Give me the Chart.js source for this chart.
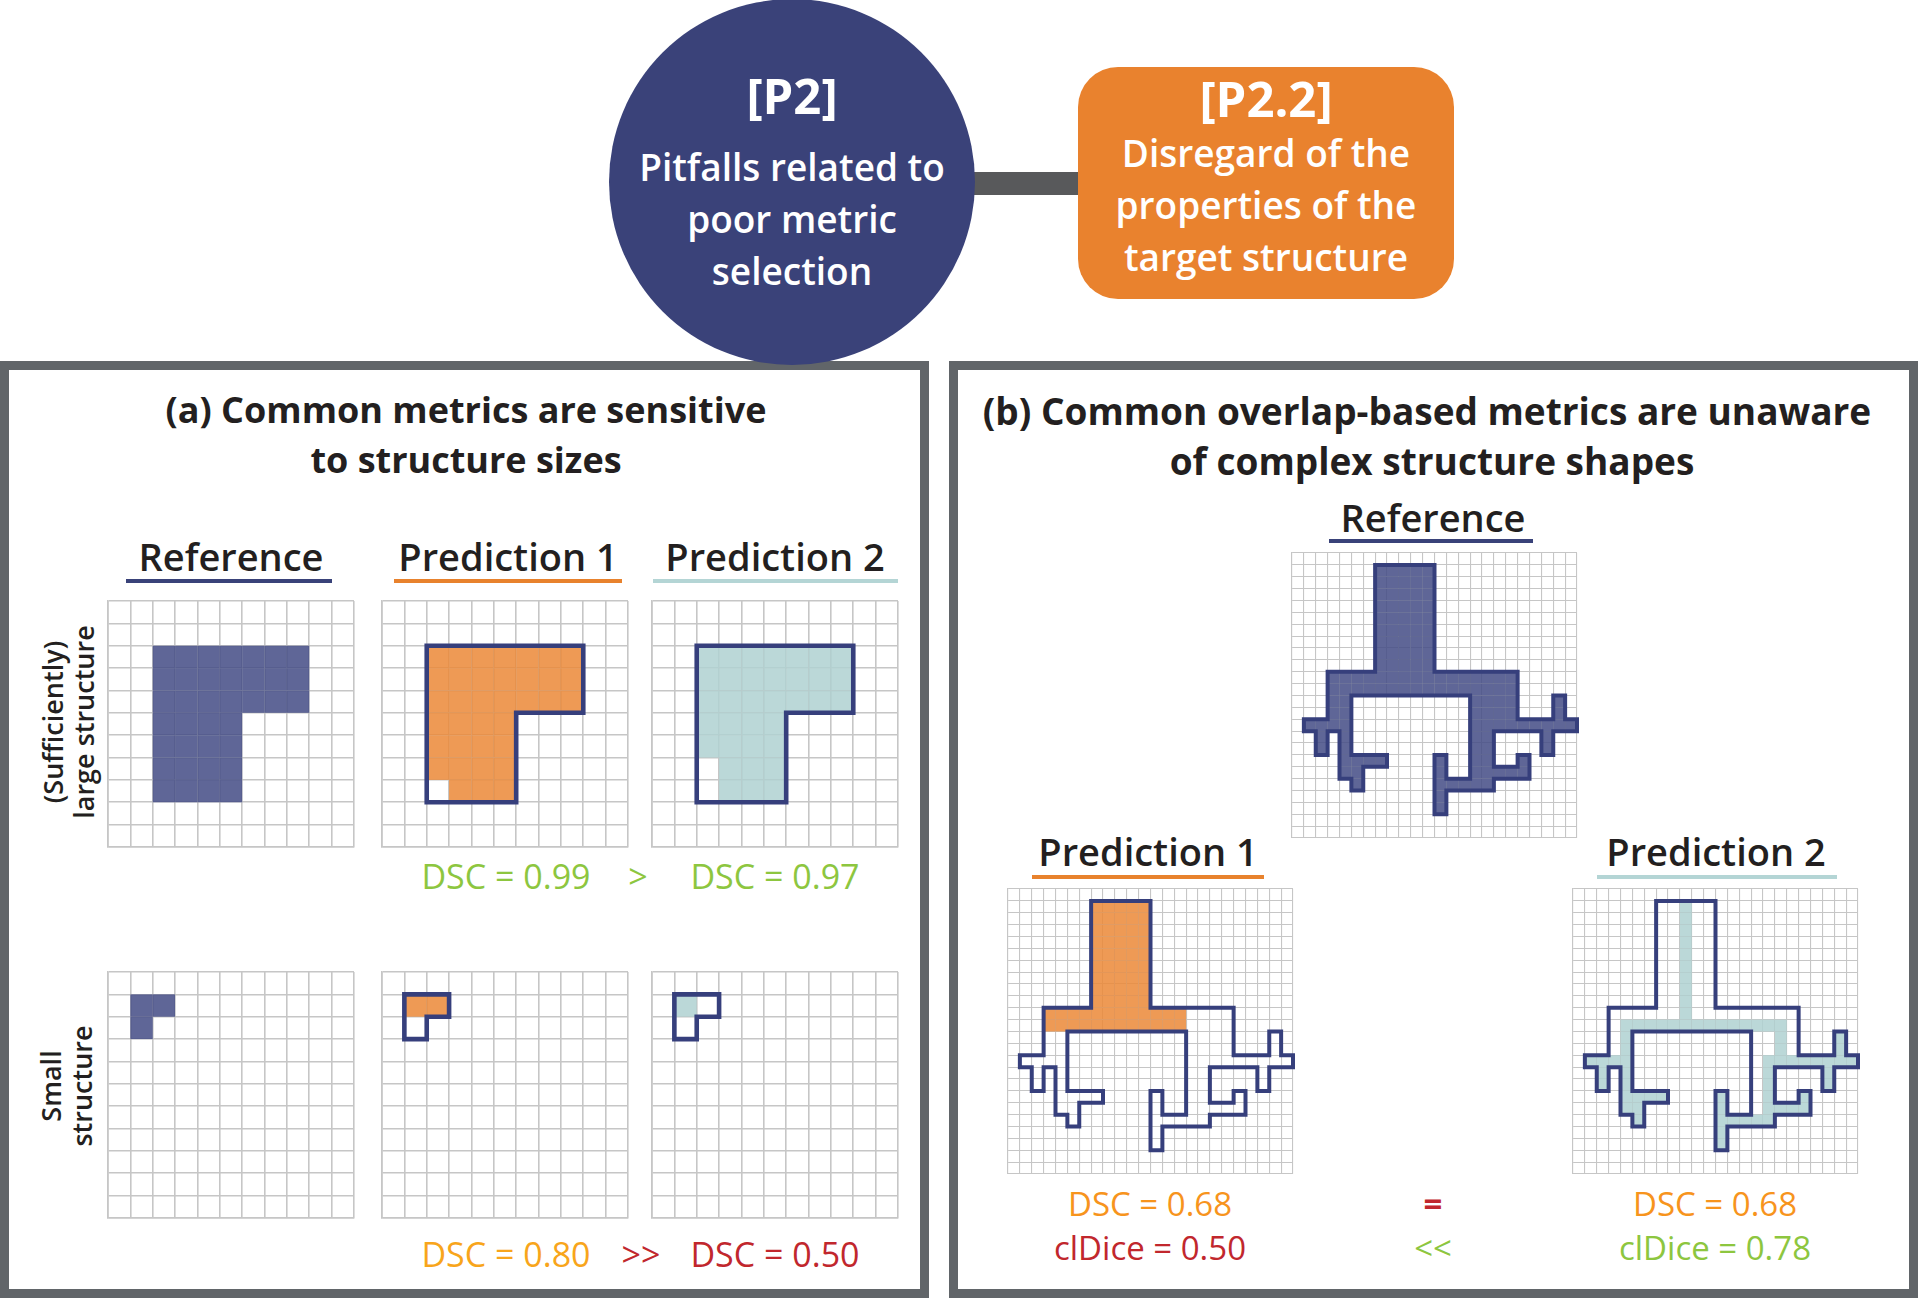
<!DOCTYPE html>
<html>
<head>
<meta charset="utf-8">
<script src="https://cdn.jsdelivr.net/npm/chart.js@4.4.1/dist/chart.umd.min.js"></script>
<style>
html, body { margin: 0; padding: 0; background: #fff; }
#page { position: relative; width: 1920px; height: 1298px; overflow: hidden; font-family: "Open Sans", sans-serif; color: #231f20; }
.panel { position: absolute; box-sizing: border-box; border: 9px solid #616569; }
.txt { position: absolute; white-space: nowrap; line-height: 1; transform: translate(-50%, -50%); }
.side { position: absolute; white-space: nowrap; text-align: center; font-size: 27px; font-weight: 600; line-height: 31px; transform: translate(-50%, -50%) rotate(-90deg); }
.rule { position: absolute; height: 4px; }
canvas { position: absolute; }
</style>
</head>
<body>
<div id="page">
    <div class="panel" style="left:0;top:361px;width:929px;height:937px"></div>
    <div class="panel" style="left:949px;top:361px;width:969px;height:937px"></div>

    <div style="position:absolute;left:960px;top:172px;width:130px;height:23px;background:#58595b"></div>
    <div style="position:absolute;left:609px;top:-1px;width:366px;height:366px;border-radius:50%;background:#3a4279;z-index:2"></div>
    <div style="position:absolute;left:1078px;top:67px;width:376px;height:232px;border-radius:40px;background:#e9822e"></div>

    <div class="txt" style="left:792px;top:95px;font-size:49px;font-weight:700;color:#fff;z-index:3">[P2]</div>
    <div class="txt" style="left:792px;top:166px;font-size:37px;font-weight:600;color:#fff;z-index:3">Pitfalls related to</div>
    <div class="txt" style="left:792px;top:218px;font-size:37px;font-weight:600;color:#fff;z-index:3">poor metric</div>
    <div class="txt" style="left:792px;top:270px;font-size:37px;font-weight:600;color:#fff;z-index:3">selection</div>

    <div class="txt" style="left:1266px;top:98px;font-size:49px;font-weight:700;color:#fff">[P2.2]</div>
    <div class="txt" style="left:1266px;top:152px;font-size:37px;font-weight:600;color:#fff">Disregard of the</div>
    <div class="txt" style="left:1266px;top:204px;font-size:37px;font-weight:600;color:#fff">properties of the</div>
    <div class="txt" style="left:1266px;top:256px;font-size:37px;font-weight:600;color:#fff">target structure</div>

    <div class="txt" style="left:466px;top:410px;font-size:36px;font-weight:700">(a) Common metrics are sensitive</div>
    <div class="txt" style="left:466px;top:460px;font-size:36px;font-weight:700">to structure sizes</div>
    <div class="txt" style="left:1427px;top:410px;font-size:37px;font-weight:700">(b) Common overlap-based metrics are unaware</div>
    <div class="txt" style="left:1432px;top:460px;font-size:37px;font-weight:700">of complex structure shapes</div>

    <div class="txt" style="left:231px;top:556px;font-size:38px;font-weight:600">Reference</div>
    <div class="txt" style="left:508px;top:556px;font-size:38px;font-weight:600">Prediction 1</div>
    <div class="txt" style="left:775px;top:556px;font-size:38px;font-weight:600">Prediction 2</div>
    <div class="rule" style="left:126px;top:579px;width:206px;background:#394279"></div>
    <div class="rule" style="left:394px;top:579px;width:228px;background:#e8822d"></div>
    <div class="rule" style="left:653px;top:579px;width:245px;background:#b4d5d5"></div>

    <div class="side" style="left:68px;top:722px">(Sufficiently)<br>large structure</div>
    <div class="side" style="left:66px;top:1086px">Small<br>structure</div>

    <div class="txt" style="left:506px;top:876px;font-size:34px;color:#8dc63f">DSC = 0.99</div>
    <div class="txt" style="left:638px;top:876px;font-size:34px;color:#8dc63f">&gt;</div>
    <div class="txt" style="left:775px;top:876px;font-size:34px;color:#8dc63f">DSC = 0.97</div>
    <div class="txt" style="left:506px;top:1254px;font-size:34px;color:#f8a51b">DSC = 0.80</div>
    <div class="txt" style="left:641px;top:1254px;font-size:34px;color:#c1272d">&gt;&gt;</div>
    <div class="txt" style="left:775px;top:1254px;font-size:34px;color:#c1272d">DSC = 0.50</div>

    <div class="txt" style="left:1433px;top:517px;font-size:38px;font-weight:600">Reference</div>
    <div class="rule" style="left:1329px;top:539px;width:204px;background:#394279"></div>
    <div class="txt" style="left:1148px;top:851px;font-size:38px;font-weight:600">Prediction 1</div>
    <div class="rule" style="left:1032px;top:875px;width:232px;background:#e8822d"></div>
    <div class="txt" style="left:1716px;top:851px;font-size:38px;font-weight:600">Prediction 2</div>
    <div class="rule" style="left:1597px;top:875px;width:240px;background:#b4d5d5"></div>

    <div class="txt" style="left:1150px;top:1203px;font-size:33px;color:#f7941d">DSC = 0.68</div>
    <div class="txt" style="left:1150px;top:1247px;font-size:33px;color:#c1272d">clDice = 0.50</div>
    <div class="txt" style="left:1433px;top:1203px;font-size:33px;font-weight:700;color:#c1272d">=</div>
    <div class="txt" style="left:1433px;top:1247px;font-size:33px;color:#8dc63f">&lt;&lt;</div>
    <div class="txt" style="left:1715px;top:1203px;font-size:33px;color:#f7941d">DSC = 0.68</div>
    <div class="txt" style="left:1715px;top:1247px;font-size:33px;color:#8dc63f">clDice = 0.78</div>
</div>
<script>
// cell runs: [rowFrom, rowTo, colFrom, colTo] on the grid, row 0 at top
const largeReference = [[2, 4, 2, 8], [5, 8, 2, 5]];
const largePrediction1 = [[2, 4, 2, 8], [5, 7, 2, 5], [8, 8, 3, 5]];
const largePrediction2 = [[2, 4, 2, 8], [5, 6, 2, 5], [7, 8, 3, 5]];

const smallReference = [[1, 1, 1, 2], [2, 2, 1, 1]];
const smallPrediction1 = [[1, 1, 1, 2]];
const smallPrediction2 = [[1, 1, 1, 1]];

const treeReference = [
    [1, 9, 7, 11],
    [10, 11, 3, 18],
    [12, 13, 3, 4], [12, 13, 15, 18], [12, 13, 22, 22],
    [14, 14, 1, 4], [14, 14, 15, 23],
    [15, 16, 2, 2], [15, 16, 4, 4], [15, 16, 15, 16], [15, 16, 21, 21],
    [17, 17, 4, 7], [17, 21, 12, 12], [17, 18, 15, 16], [17, 18, 19, 19],
    [18, 18, 4, 5], [18, 18, 17, 18],
    [19, 19, 5, 5], [19, 19, 13, 16]
];
const treePrediction1 = [[1, 9, 7, 11], [10, 11, 3, 14]];
const treePrediction2 = [
    [1, 10, 9, 9],
    [11, 11, 4, 17],
    [12, 18, 4, 4], [12, 13, 17, 17], [12, 13, 22, 22],
    [14, 14, 1, 3], [14, 14, 16, 23],
    [15, 16, 2, 2], [15, 19, 16, 16], [15, 16, 21, 21],
    [17, 17, 5, 7], [17, 21, 12, 12], [17, 17, 19, 19],
    [18, 18, 5, 5], [18, 18, 17, 19],
    [19, 19, 5, 5], [19, 19, 13, 15]
];

const NAVY = "#363f7c";
const GRID = "#c6c6c6";
const FILL_NAVY = "rgba(67, 75, 133, 0.85)";
const FILL_ORANGE = "rgba(235, 136, 55, 0.85)";
const FILL_TEAL = "rgba(175, 209, 209, 0.85)";
const PAD = 4;

const cellsOf = function (runs) {
    const cells = new Set();
    runs.forEach(([r0, r1, c0, c1]) => {
        for (let r = r0; r <= r1; r++) {
            for (let c = c0; c <= c1; c++) cells.add(c + "," + r);
        }
    });
    return cells;
};

// trace the border of a cell set into closed loops, loops split by null points
const outlineOf = function (cells) {
    const has = (c, r) => cells.has(c + "," + r);
    const next = new Map();
    const add = (a, b) => {
        const k = a.join(",");
        if (!next.has(k)) next.set(k, []);
        next.get(k).push(b);
    };
    for (const key of cells) {
        const [c, r] = key.split(",").map(Number);
        if (!has(c, r - 1)) add([c, r], [c + 1, r]);
        if (!has(c + 1, r)) add([c + 1, r], [c + 1, r + 1]);
        if (!has(c, r + 1)) add([c + 1, r + 1], [c, r + 1]);
        if (!has(c - 1, r)) add([c, r + 1], [c, r]);
    }
    const out = [];
    for (const [k, list] of next) {
        while (list.length) {
            const loop = [k.split(",").map(Number)];
            let p = list.shift();
            while (p && p.join(",") !== k) {
                loop.push(p);
                const l = next.get(p.join(","));
                p = l && l.length ? l.shift() : null;
            }
            const pts = loop.filter((q, i) => {
                const a = loop[(i - 1 + loop.length) % loop.length];
                const b = loop[(i + 1) % loop.length];
                return !((a[0] === q[0] && q[0] === b[0]) || (a[1] === q[1] && q[1] === b[1]));
            });
            pts.push(pts[0]);
            pts.forEach(q => out.push({x: q[0], y: q[1]}));
            out.push({x: null, y: null});
        }
    }
    return out;
};

const axis = function (n, reverse, gridWidth) {
    return {
        type: "linear",
        min: 0,
        max: n,
        reverse: reverse,
        afterBuildTicks: scale => {
            scale.ticks = Array.from({length: n + 1}, (_, i) => ({value: i}));
        },
        ticks: {display: false},
        grid: {color: GRID, lineWidth: gridWidth, drawTicks: false},
        border: {color: GRID, width: gridWidth}
    };
};

const makeGrid = function (left, top, size, n, runs, fillColor, outlineRuns, outlineWidth, gridWidth) {
    const canvas = document.createElement("canvas");
    canvas.width = size + 2 * PAD;
    canvas.height = size + 2 * PAD;
    canvas.style.left = (left - PAD) + "px";
    canvas.style.top = (top - PAD) + "px";
    document.getElementById("page").appendChild(canvas);

    const cellPoints = [...cellsOf(runs)].map(key => {
        const [c, r] = key.split(",").map(Number);
        return {x: c + 0.5, y: r + 0.5};
    });

    const datasets = [{
        label: "cells",
        data: cellPoints,
        backgroundColor: fillColor,
        borderWidth: 0,
        pointStyle: "rect",
        pointRadius: ctx => {
            const s = ctx.chart.scales.x;
            return Math.abs(s.getPixelForValue(1) - s.getPixelForValue(0)) / Math.SQRT2;
        },
        order: 1
    }];

    if (outlineRuns) {
        datasets.push({
            label: "outline",
            data: outlineOf(cellsOf(outlineRuns)),
            showLine: true,
            spanGaps: false,
            borderColor: NAVY,
            borderWidth: outlineWidth,
            borderJoinStyle: "miter",
            borderCapStyle: "square",
            pointRadius: 0,
            clip: false,
            order: 0
        });
    }

    return new Chart(canvas.getContext("2d"), {
        type: "scatter",
        data: {datasets: datasets},
        options: {
            responsive: false,
            animation: false,
            events: [],
            layout: {padding: PAD},
            plugins: {legend: {display: false}, tooltip: {enabled: false}},
            scales: {
                x: axis(n, false, gridWidth),
                y: axis(n, true, gridWidth)
            }
        }
    });
};

// panel (a)
makeGrid(108, 601, 246, 11, largeReference, FILL_NAVY, null, 0, 1.6);
makeGrid(382, 601, 246, 11, largePrediction1, FILL_ORANGE, largeReference, 4.6, 1.6);
makeGrid(652, 601, 246, 11, largePrediction2, FILL_TEAL, largeReference, 4.6, 1.6);
makeGrid(108, 972, 246, 11, smallReference, FILL_NAVY, null, 0, 1.6);
makeGrid(382, 972, 246, 11, smallPrediction1, FILL_ORANGE, smallReference, 4.6, 1.6);
makeGrid(652, 972, 246, 11, smallPrediction2, FILL_TEAL, smallReference, 4.6, 1.6);

// panel (b)
makeGrid(1292, 553, 285, 24, treeReference, FILL_NAVY, treeReference, 4, 1.1);
makeGrid(1008, 889, 285, 24, treePrediction1, FILL_ORANGE, treeReference, 4, 1.1);
makeGrid(1573, 889, 285, 24, treePrediction2, FILL_TEAL, treeReference, 4, 1.1);
</script>
</body>
</html>
